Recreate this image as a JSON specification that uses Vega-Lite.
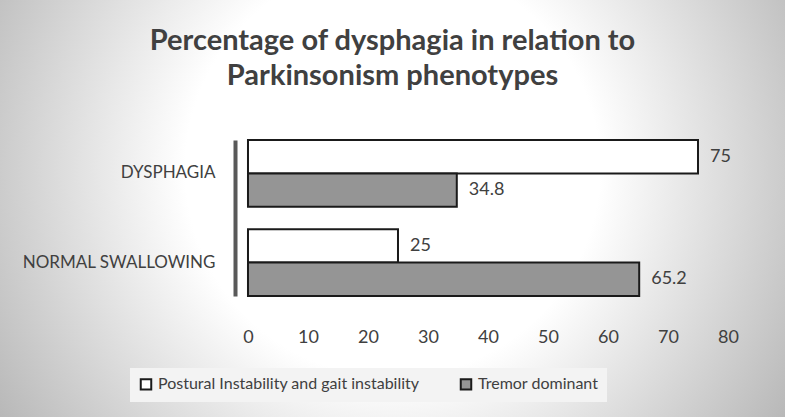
{
  "$schema": "https://vega.github.io/schema/vega-lite/v6.json",
  "width": 785,
  "height": 417,
  "autosize": {"type": "none"},
  "padding": 0,
  "background": "#d9d9d9",
  "view": {
    "stroke": null,
    "fill": {
      "gradient": "radial",
      "x1": 0.5, "y1": 0.45, "r1": 0,
      "x2": 0.5, "y2": 0.45, "r2": 0.66,
      "stops": [
        {"offset": 0, "color": "#ffffff"},
        {"offset": 0.4, "color": "#ffffff"},
        {"offset": 1, "color": "#a9a9a9"}
      ]
    }
  },
  "title": {
    "text": ["Percentage of  dysphagia in relation to", "Parkinsonism phenotypes"],
    "fontSize": 29,
    "fontWeight": "bold",
    "font": "Lato",
    "color": "#404040",
    "anchor": "middle",
    "frame": "group",
    "offset": 0,
    "dy": 91,
    "lineHeight": 35
  },
  "data": {
    "values": [
      {"status": "DYSPHAGIA", "phenotype": "Postural Instability and gait instability", "value": 75},
      {"status": "DYSPHAGIA", "phenotype": "Tremor dominant", "value": 34.8},
      {"status": "NORMAL SWALLOWING", "phenotype": "Postural Instability and gait instability", "value": 25},
      {"status": "NORMAL SWALLOWING", "phenotype": "Tremor dominant", "value": 65.2}
    ]
  },
  "encoding": {
    "y": {
      "field": "status",
      "type": "nominal",
      "sort": ["DYSPHAGIA", "NORMAL SWALLOWING"],
      "scale": {"range": [140, 296], "paddingInner": 0.25, "paddingOuter": 0},
      "axis": {
        "title": null,
        "offset": -235,
        "ticks": false,
        "tickSize": 0,
        "labelPadding": 20,
        "labelFontSize": 17,
        "labelFont": "Lato",
        "labelColor": "#404040",
        "labelLimit": 300,
        "domainColor": "#595959",
        "domainWidth": 4,
        "grid": false
      }
    },
    "yOffset": {
      "field": "phenotype",
      "type": "nominal",
      "sort": ["Postural Instability and gait instability", "Tremor dominant"],
      "scale": {"paddingInner": 0, "paddingOuter": 0}
    },
    "x": {
      "field": "value",
      "type": "quantitative",
      "scale": {"domain": [-41.33, 89.5], "nice": false, "zero": false},
      "axis": {
        "title": null,
        "orient": "bottom",
        "offset": -92,
        "values": [0, 10, 20, 30, 40, 50, 60, 70, 80],
        "domain": false,
        "ticks": false,
        "grid": false,
        "labelPadding": 3,
        "labelFontSize": 18,
        "labelFont": "Lato",
        "labelColor": "#404040"
      }
    }
  },
  "layer": [
    {
      "mark": {"type": "bar", "stroke": "#1a1a1a", "strokeWidth": 2},
      "encoding": {
        "color": {
          "field": "phenotype",
          "type": "nominal",
          "sort": ["Postural Instability and gait instability", "Tremor dominant"],
          "scale": {"range": ["#ffffff", "#959595"]},
          "legend": {
            "title": null,
            "orient": "none",
            "legendX": 130,
            "legendY": 368,
            "direction": "horizontal",
            "symbolType": "square",
            "symbolSize": 110,
            "symbolStrokeColor": "#1a1a1a",
            "symbolStrokeWidth": 2,
            "labelFontSize": 16,
            "labelFont": "Lato",
            "labelColor": "#404040",
            "labelLimit": 400,
            "columnPadding": 36,
            "fillColor": "#f3f3f3",
            "padding": 8
          }
        }
      }
    },
    {
      "mark": {"type": "text", "align": "left", "dx": 12, "fontSize": 18, "font": "Lato", "color": "#404040"},
      "encoding": {
        "text": {"field": "value", "type": "quantitative"}
      }
    }
  ]
}
